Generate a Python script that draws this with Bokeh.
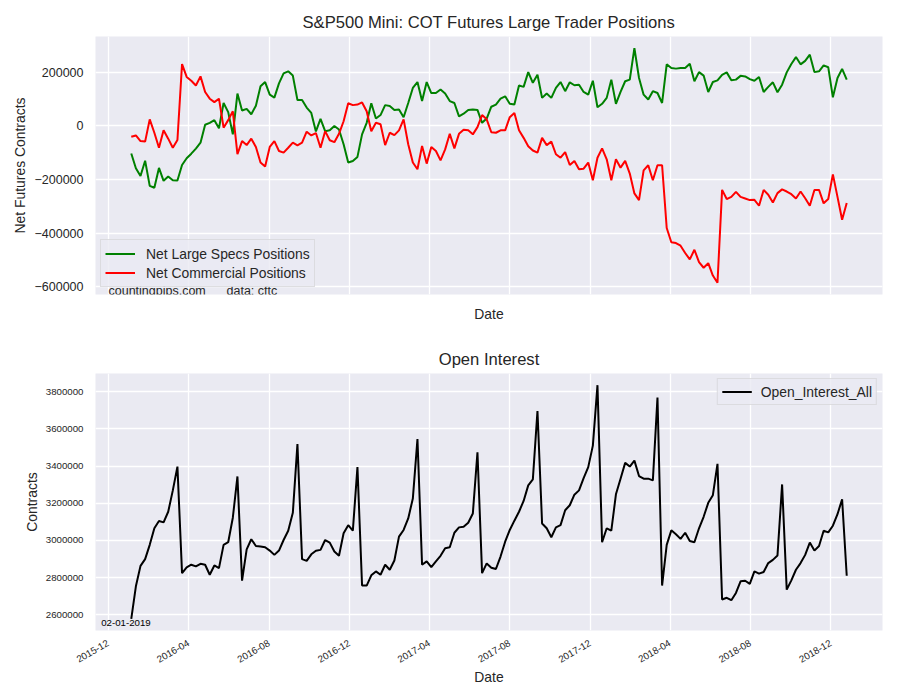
import math
import pandas as pd
from bokeh.plotting import figure
from bokeh.models import (Range1d, FixedTicker, CustomJSTickFormatter, DatetimeTickFormatter,
                          Legend, LegendItem, Label, ColumnDataSource)
from bokeh.layouts import column
from bokeh.embed import file_html
from bokeh.resources import INLINE

# ---------------- data ----------------
start_date = "2016-01-05"   # weekly COT report dates

large_specs = [
    -103000, -158000, -187000, -130000, -224000, -231000, -157000, -205000, -189000, -203000,
    -204000, -146000, -121000, -104000, -85000, -63000, 4000, 11000, 21000, -9000,
    85000, 51000, -32000, 120000, 57000, 63000, 43000, 75000, 147000, 163000,
    116000, 105000, 158000, 195000, 203000, 187000, 96000, 96000, 68000, 48000,
    -21000, 26000, -20000, -17000, -1000, -14000, -69000, -137000, -131000, -116000,
    -32000, 11000, 84000, 27000, 40000, 77000, 74000, 59000, 61000, 32000,
    85000, 141000, 163000, 92000, 163000, 122000, 122000, 135000, 120000, 92000,
    85000, 35000, 45000, 59000, 61000, 59000, 11000, 27000, 71000, 79000,
    101000, 110000, 82000, 79000, 150000, 145000, 200000, 160000, 190000, 104000,
    120000, 104000, 141000, 163000, 129000, 162000, 151000, 153000, 126000, 116000,
    168000, 69000, 82000, 104000, 172000, 82000, 126000, 166000, 172000, 289000,
    178000, 116000, 98000, 129000, 122000, 85000, 229000, 215000, 213000, 215000,
    215000, 231000, 166000, 200000, 187000, 126000, 163000, 169000, 190000, 199000,
    170000, 172000, 186000, 184000, 174000, 168000, 182000, 126000, 145000, 162000,
    125000, 153000, 199000, 230000, 256000, 229000, 242000, 265000, 200000, 203000,
    225000, 218000, 106000, 178000, 212000, 172000,
]

commercial = [
    -41000, -36000, -57000, -59000, 24000, -26000, -82000, -17000, -48000, -82000,
    -53000, 230000, 182000, 168000, 150000, 184000, 126000, 101000, 88000, 101000,
    -7000, 21000, 54000, -106000, -57000, -72000, -48000, -79000, -137000, -152000,
    -79000, -57000, -94000, -100000, -82000, -63000, -73000, -63000, -22000, -36000,
    -27000, -82000, -20000, -54000, -61000, -30000, 17000, 84000, 77000, 79000,
    87000, 54000, -20000, 11000, 6000, -72000, -26000, -35000, -17000, 24000,
    -69000, -137000, -162000, -75000, -141000, -79000, -94000, -129000, -88000, -30000,
    -84000, -30000, -15000, -17000, -32000, -5000, 40000, 24000, -24000, -26000,
    -17000, -17000, 32000, 48000, -17000, -45000, -76000, -92000, -100000, -45000,
    -72000, -59000, -106000, -119000, -98000, -146000, -131000, -162000, -160000, -137000,
    -203000, -119000, -84000, -125000, -203000, -125000, -156000, -131000, -178000, -252000,
    -277000, -166000, -147000, -203000, -147000, -147000, -381000, -434000, -437000, -447000,
    -474000, -498000, -462000, -508000, -529000, -512000, -558000, -585000, -239000, -273000,
    -265000, -246000, -265000, -271000, -277000, -276000, -298000, -239000, -257000, -286000,
    -251000, -237000, -245000, -255000, -271000, -245000, -270000, -298000, -239000, -239000,
    -289000, -273000, -181000, -265000, -350000, -288000,
]

open_interest = [
    2578000, 2753000, 2863000, 2899000, 2976000, 3065000, 3104000, 3097000, 3154000, 3269000,
    3397000, 2824000, 2855000, 2869000, 2860000, 2874000, 2869000, 2815000, 2865000, 2851000,
    2976000, 2990000, 3122000, 3344000, 2783000, 2952000, 3006000, 2970000, 2967000, 2963000,
    2945000, 2922000, 2945000, 3002000, 3052000, 3148000, 3518000, 2899000, 2890000, 2925000,
    2944000, 2949000, 3002000, 2988000, 2940000, 2917000, 3038000, 3082000, 3052000, 3394000,
    2757000, 2757000, 2812000, 2833000, 2815000, 2869000, 2842000, 2892000, 3020000, 3056000,
    3118000, 3225000, 3545000, 2869000, 2887000, 2856000, 2887000, 2917000, 2958000, 2963000,
    3041000, 3070000, 3073000, 3095000, 3145000, 3474000, 2824000, 2876000, 2853000, 2846000,
    2913000, 2993000, 3056000, 3106000, 3154000, 3212000, 3296000, 3328000, 3696000, 3091000,
    3065000, 3017000, 3070000, 3082000, 3162000, 3189000, 3246000, 3269000, 3335000, 3394000,
    3510000, 3835000, 2990000, 3065000, 3052000, 3248000, 3332000, 3417000, 3397000, 3429000,
    3346000, 3332000, 3332000, 3323000, 3768000, 2757000, 2976000, 3054000, 3033000, 3008000,
    3041000, 2997000, 2990000, 3065000, 3127000, 3202000, 3243000, 3412000, 2682000, 2691000,
    2678000, 2717000, 2780000, 2783000, 2766000, 2833000, 2821000, 2830000, 2878000, 2895000,
    2919000, 3301000, 2735000, 2785000, 2842000, 2878000, 2922000, 2988000, 2945000, 2970000,
    3052000, 3043000, 3079000, 3141000, 3221000, 2810000,
]

x_tick_labels = ["2015-12", "2016-04", "2016-08", "2016-12", "2017-04",
                 "2017-08", "2017-12", "2018-04", "2018-08", "2018-12"]
top_y_ticks = [-600000, -400000, -200000, 0, 200000]
bottom_y_ticks = [2600000, 2800000, 3000000, 3200000, 3400000, 3600000, 3800000]

title_top = "S&P500 Mini: COT Futures Large Trader Positions"
title_bottom = "Open Interest"
date_note = "02-01-2019"

# ---------------- styling ----------------
FONT = "Liberation Sans"
TXT = "#262626"
BG = "#EAEAF2"

dates = pd.date_range(start_date, periods=len(large_specs), freq="7D")
src = ColumnDataSource(dict(date=dates, specs=large_specs, comm=commercial, oi=open_interest))

span = dates[-1] - dates[0]
x_range = Range1d((dates[0] - 0.05 * span).to_pydatetime(), (dates[-1] + 0.05 * span).to_pydatetime())

tick_ms = [pd.Timestamp(t + "-01").value / 1e6 for t in x_tick_labels]

lo1 = min(min(large_specs), min(commercial))
hi1 = max(max(large_specs), max(commercial))
pad1 = 0.05 * (hi1 - lo1)
lo2, hi2 = min(open_interest), max(open_interest)
pad2 = 0.05 * (hi2 - lo2)

num_fmt = CustomJSTickFormatter(code="return (tick < 0 ? '\\u2212' : '') + Math.abs(Math.round(tick)).toString();")


def style(p, ytick_size):
    p.background_fill_color = BG
    p.border_fill_color = "white"
    p.outline_line_color = None
    for ax in (p.xaxis[0], p.yaxis[0]):
        ax.axis_line_color = None
        ax.major_tick_line_color = None
        ax.minor_tick_line_color = None
        ax.major_tick_out = 0
        ax.major_tick_in = 0
        ax.major_label_text_color = TXT
        ax.major_label_text_font = FONT
        ax.axis_label_text_font = FONT
        ax.axis_label_text_font_size = "13.9px"
        ax.axis_label_text_font_style = "normal"
        ax.axis_label_text_color = TXT
    p.yaxis[0].major_label_text_font_size = ytick_size
    p.yaxis[0].major_label_standoff = 12
    p.yaxis[0].axis_label_standoff = 3
    p.xgrid.ticker = FixedTicker(ticks=tick_ms)
    for g in (p.xgrid[0], p.ygrid[0]):
        g.grid_line_color = "white"
        g.grid_line_width = 1.3
    p.title.text_font = FONT
    p.title.text_font_size = "16.6px"
    p.title.text_font_style = "normal"
    p.title.text_color = TXT
    p.title.align = "center"
    p.title.standoff = 9


# ---------------- top chart ----------------
p1 = figure(x_axis_type="datetime", x_range=x_range, y_range=Range1d(lo1 - pad1, hi1 + pad1),
            width=892, height=335, min_border_left=95, min_border_right=10,
            min_border_top=36, min_border_bottom=41, output_backend="svg",
            toolbar_location=None, title=title_top)
style(p1, "12.5px")
p1.xaxis.ticker = FixedTicker(ticks=tick_ms)
p1.xaxis.formatter = CustomJSTickFormatter(code="return '';")
p1.xaxis.major_label_text_font_size = "1px"
p1.xaxis.major_label_standoff = 0
p1.xaxis.axis_label = "Date"
p1.xaxis.axis_label_standoff = 11
p1.yaxis.ticker = FixedTicker(ticks=top_y_ticks)
p1.yaxis.formatter = num_fmt
p1.yaxis.axis_label = "Net Futures Contracts"

r1 = p1.line("date", "specs", source=src, line_color="green", line_width=2)
r2 = p1.line("date", "comm", source=src, line_color="red", line_width=2)

for txt, xo in (("countingpips.com", 13), ("data: cftc", 131)):
    p1.add_layout(Label(x=xo, y=3.5, x_units="screen", y_units="screen", text=txt,
                        text_font=FONT, text_font_size="12.5px", text_color=TXT,
                        text_baseline="alphabetic"))

leg1 = Legend(items=[LegendItem(label="Net Large Specs Positions", renderers=[r1]),
                     LegendItem(label="Net Commercial Positions", renderers=[r2])],
              location=(5, 7), padding=4, spacing=0, glyph_width=30, glyph_height=19,
              label_height=19, label_standoff=11, label_text_font=FONT,
              label_text_font_size="13.9px", label_text_color=TXT,
              background_fill_color=BG, background_fill_alpha=0.8,
              border_line_color="#CCCCCC", border_line_width=1, margin=0)
p1.add_layout(leg1)

# ---------------- bottom chart ----------------
p2 = figure(x_axis_type="datetime", x_range=x_range, y_range=Range1d(lo2 - pad2, hi2 + pad2),
            width=892, height=357, min_border_left=95, min_border_right=10,
            min_border_top=38, min_border_bottom=62, output_backend="svg",
            toolbar_location=None, title=title_bottom)
style(p2, "9.7px")
p2.xaxis.ticker = FixedTicker(ticks=tick_ms)
p2.xaxis.formatter = DatetimeTickFormatter(days="%Y-%m", months="%Y-%m", years="%Y-%m",
                                           hours="%Y-%m", minutes="%Y-%m", seconds="%Y-%m",
                                           milliseconds="%Y-%m", microseconds="%Y-%m")
p2.xaxis.major_label_text_font_size = "9.7px"
p2.xaxis.major_label_orientation = math.pi / 6
p2.xaxis.major_label_standoff = 12
p2.xaxis.axis_label = "Date"
p2.xaxis.axis_label_standoff = 1
p2.yaxis.ticker = FixedTicker(ticks=bottom_y_ticks)
p2.yaxis.formatter = num_fmt
p2.yaxis.axis_label = "Contracts"

r3 = p2.line("date", "oi", source=src, line_color="black", line_width=2)

p2.add_layout(Label(x=5.7, y=8, x_units="screen", y_units="screen", text=date_note,
                    text_font=FONT, text_font_size="9.7px", text_color="black",
                    text_baseline="alphabetic"))

leg2 = Legend(items=[LegendItem(label="Open_Interest_All", renderers=[r3])],
              location="top_right", padding=4, spacing=0, glyph_width=30, glyph_height=17,
              label_height=17, label_standoff=9, label_text_font=FONT,
              label_text_font_size="13.9px", label_text_color=TXT,
              background_fill_color=BG, background_fill_alpha=0.8,
              border_line_color="#CCCCCC", border_line_width=1, margin=5)
p2.add_layout(leg2)

layout = column(p1, p2, spacing=0)
open("out.html", "w").write(file_html(layout, INLINE))
